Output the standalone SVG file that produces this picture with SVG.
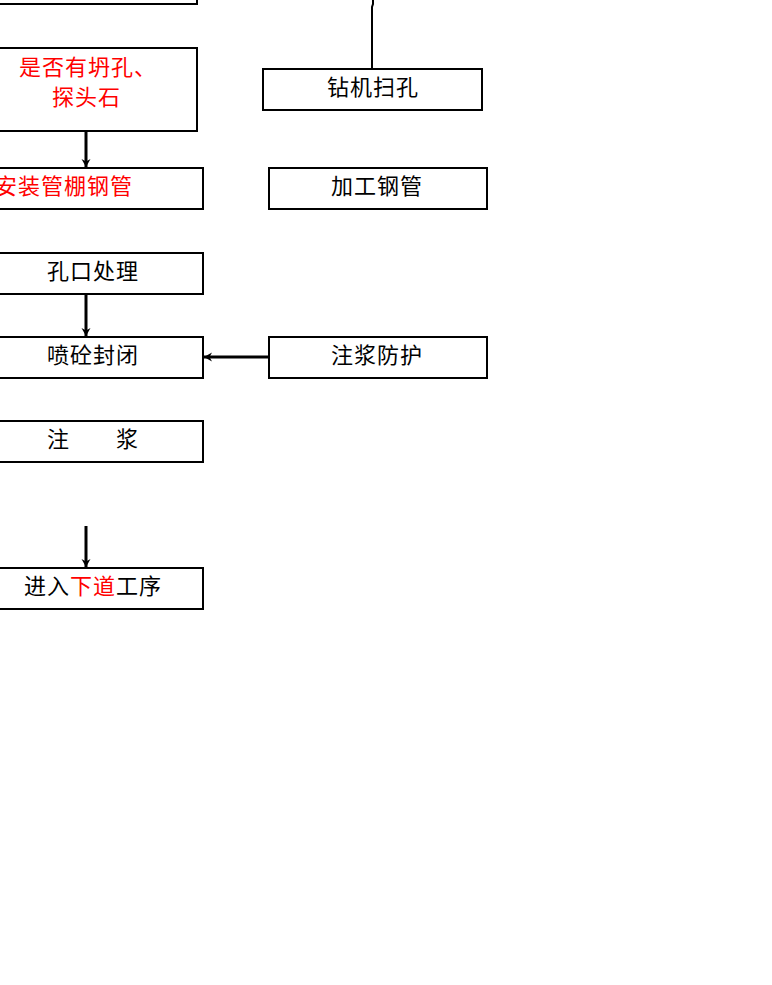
<svg xmlns="http://www.w3.org/2000/svg" width="772" height="985" viewBox="0 0 772 985">
<style>
.box{fill:#fff;stroke:#000;stroke-width:2}
.t{font-family:"Noto Sans CJK SC","Noto Sans",sans-serif;font-size:22px;letter-spacing:1px;fill:#000}
.r{fill:#f00}
.c{stroke:#000;stroke-width:3;fill:none}
</style>
<defs>
<marker id="ah" markerUnits="userSpaceOnUse" viewBox="-8 -5 9 10" refX="0" refY="0" markerWidth="9" markerHeight="10" orient="auto">
<path d="M-8,-4.5 L0,0 L-8,4.5 L-5.5,0 Z" fill="#000"/>
</marker>
</defs>
<rect width="772" height="985" fill="#fff"/>
<g id="connectors">
<path class="c" style="stroke-width:2" d="M373,0 V4 L372,7 V69"/>
<path class="c" d="M86,126 V167" marker-end="url(#ah)"/>
<path class="c" d="M86,295 V336" marker-end="url(#ah)"/>
<path class="c" d="M269,357 H204" marker-end="url(#ah)"/>
<path class="c" d="M86,526 V567" marker-end="url(#ah)"/>
</g>
<g id="node-top"><rect class="box" x="-10" y="-50" width="207" height="54"/></g>
<g id="node-check"><rect class="box" x="-10" y="48" width="207" height="83"/>
<text class="t r" x="19" y="75">是否有坍孔、</text>
<text class="t r" x="52" y="105">探头石</text></g>
<g id="node-drill"><rect class="box" x="263" y="69" width="219" height="41"/>
<text class="t" x="327" y="95">钻机扫孔</text></g>
<g id="node-install"><rect class="box" x="-10" y="168" width="213" height="41"/>
<text class="t r" x="-5" y="194">安装管棚钢管</text></g>
<g id="node-process"><rect class="box" x="269" y="168" width="218" height="41"/>
<text class="t" x="331" y="194">加工钢管</text></g>
<g id="node-hole"><rect class="box" x="-10" y="253" width="213" height="41"/>
<text class="t" x="47" y="279">孔口处理</text></g>
<g id="node-spray"><rect class="box" x="-10" y="337" width="213" height="41"/>
<text class="t" x="47" y="363">喷砼封闭</text></g>
<g id="node-protect"><rect class="box" x="269" y="337" width="218" height="41"/>
<text class="t" x="331" y="363">注浆防护</text></g>
<g id="node-grout"><rect class="box" x="-10" y="421" width="213" height="41"/>
<text class="t" x="47" y="447">注　　浆</text></g>
<g id="node-next"><rect class="box" x="-10" y="568" width="213" height="41"/>
<text class="t" x="24" y="594">进入<tspan class="r">下道</tspan>工序</text></g>
</svg>
